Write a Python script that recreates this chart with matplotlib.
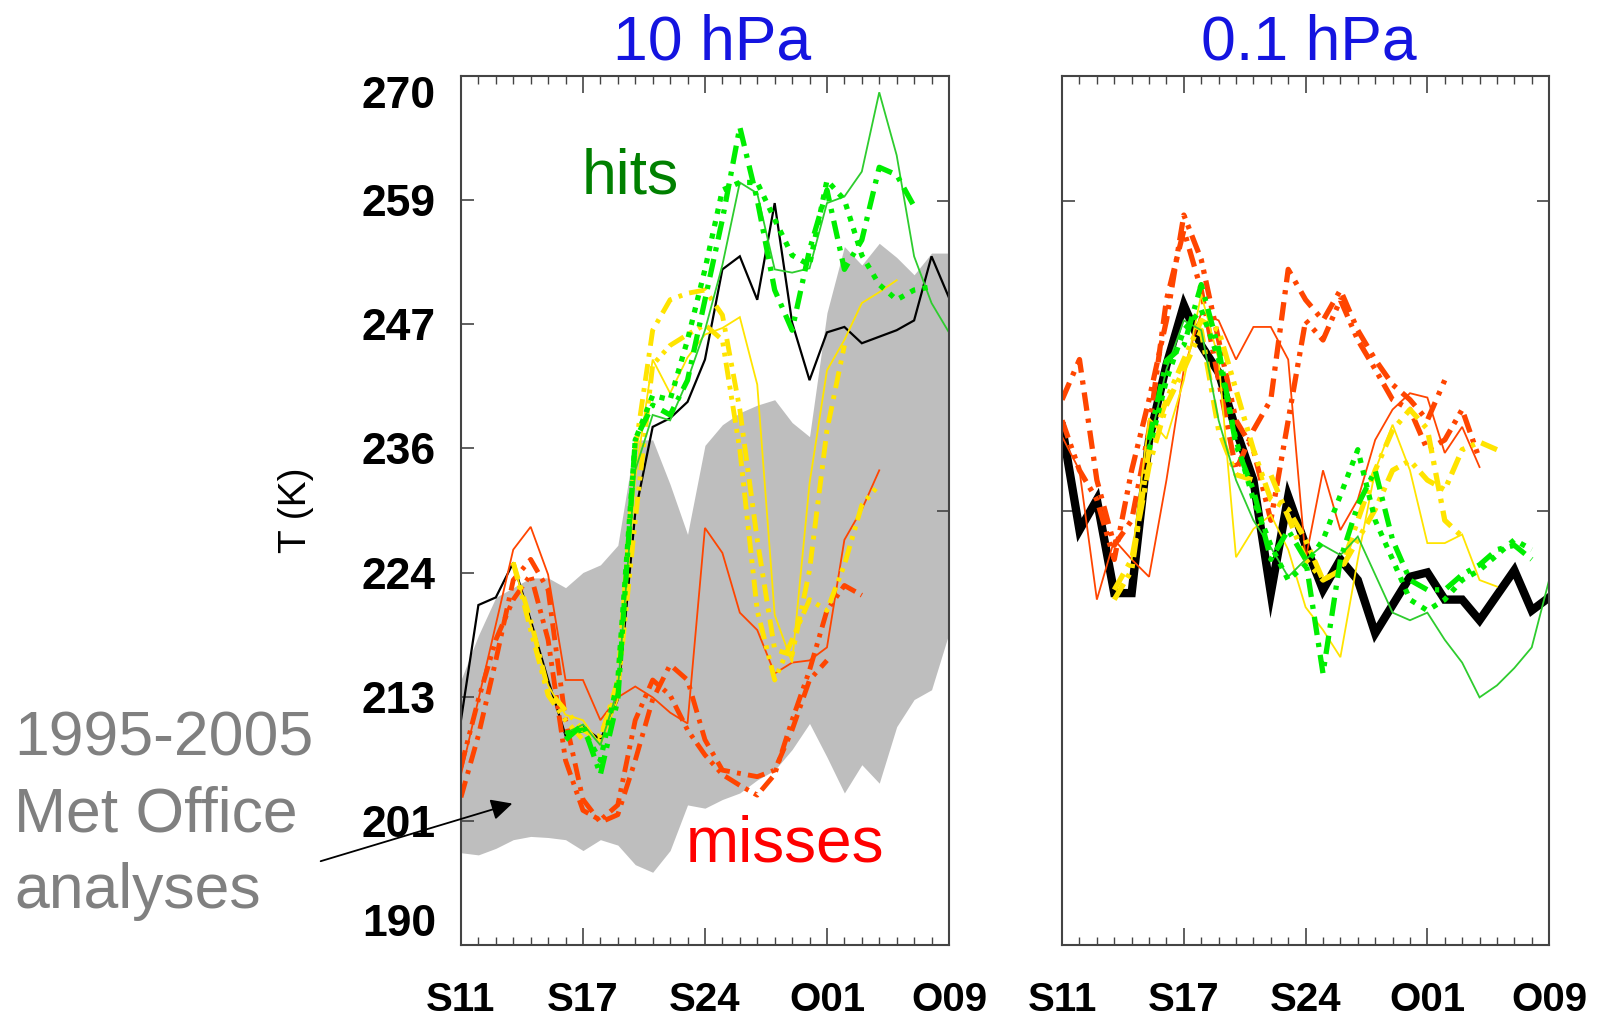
import numpy as np
import matplotlib
matplotlib.use('Agg')
import matplotlib.pyplot as plt

plt.rcParams['font.family'] = 'Liberation Sans'

nan = np.nan
days = np.arange(29)
date_labels = ['S11', 'S17', 'S24', 'O01', 'O09']
t_ticks = np.linspace(190, 270, 8)
t_labels = ['190', '201', '213', '224', '236', '247', '259', '270']
side_ticks = [230.0, 258.5]

# ---- 10 hPa panel ----
band_lo_10 = [198.5, 198.3, 198.9, 199.7, 200.0, 199.9, 199.7, 198.7, 199.7, 199.2, 197.4, 196.7, 198.7, 202.9,
              202.6, 203.4, 204.0, 205.2, 206.1, 208.0, 210.4, 207.3, 204.0, 206.6, 204.9, 210.1, 212.6, 213.5, 218.7]
band_hi_10 = [214.4, 218.5, 222.0, 222.9, 223.8, 223.8, 222.9, 224.3, 225.0, 226.8, 236.5, 236.5, 232.4, 227.8,
              236.0, 237.9, 239.0, 239.7, 240.2, 238.1, 236.8, 248.2, 254.3, 252.6, 254.6, 253.3, 251.7, 253.7, 253.7]
black_10 = [210.7, 221.3, 222.0, 225.2, 219.9, 214.4, 209.3, 210.1, 208.9, 212.6, 229.8, 237.7, 238.5, 240.0,
            243.9, 252.2, 253.4, 249.4, 258.3, 247.3, 242.0, 246.4, 246.9, 245.4, 246.0, 246.6, 247.5, 253.4, 249.6]
green_solid_10 = [nan] * 6 + [209.5, 210.3, 208.4, 213.5, 233.7, 238.8, 238.3, 242.0, 246.6, 252.6, 260.2, 259.2,
                              252.2, 251.9, 252.3, 258.3, 258.9, 261.2, 268.5, 262.7, 253.4, 249.1, 246.4]
green_dashdot_10 = [nan] * 6 + [208.9, 210.3, 205.7, 212.6, 236.5, 239.7, 238.8, 242.0, 249.4, 256.8, 265.3, 258.6,
                                250.3, 246.6, 254.0, 259.5, 252.2, 254.9, 261.6, 260.9, 258.0, nan, nan]
green_dotted_10 = [nan] * 6 + [209.5, 209.8, 207.0, 214.4, 236.5, 240.6, 240.2, 245.7, 252.2, 259.5, 260.2, 260.2,
                               256.8, 253.5, 252.6, 260.4, 258.6, 253.5, 250.8, 249.4, 250.3, 250.6, nan]
yellow_solid_10 = [nan] * 3 + [225.2, 219.5, 213.9, 211.2, 210.7, 208.4, 212.6, 233.0, 243.9, 240.8, 244.1, 246.2,
                               246.8, 247.8, 241.6, 220.4, 216.0, 232.5, 242.9, 245.7, 249.1, 250.1, 251.2] + [nan] * 3
yellow_dashdot_10 = [nan] * 3 + [225.2, 219.9, 213.5, 211.6, 209.8, 208.9, 214.4, 235.6, 246.6, 249.4, 250.0, 250.3,
                                 248.0, 239.3, 227.3, 217.2, 216.7, 224.5, 237.4, 245.2] + [nan] * 6
yellow_dd_10 = [nan] * 3 + [225.2, 219.0, 213.0, 210.7, 208.9, 209.3, 213.5, 229.1, 243.4, 245.2, 246.2, 247.1,
                            245.7, 235.6, 220.8, 214.4, 218.1, 221.8, 220.8, 225.0, 230.5, 232.4] + [nan] * 4
red_solid_10 = [205.7, 212.6, 219.5, 226.4, 228.5, 224.1, 214.4, 214.4, 210.7, 212.8, 213.8, 212.8, 211.4, 210.4,
                228.4, 226.1, 220.6, 219.0, 215.0, 216.0, 216.2, 217.4, 227.3, 230.1, 233.7] + [nan] * 4
red_dashdot_10 = [203.6, 209.3, 216.2, 223.6, 225.5, 222.7, 210.7, 203.4, 201.3, 202.0, 207.0, 212.6, 215.8, 214.4,
                  208.9, 206.1, 205.8, 205.5, 206.1, 209.8, 214.4, 216.2] + [nan] * 7
red_dd_10 = [206.4, 212.6, 218.1, 221.8, 224.1, 218.1, 207.0, 202.4, 201.5, 202.9, 210.7, 214.4, 213.0, 209.8,
             207.5, 205.7, 204.7, 203.8, 205.7, 210.7, 215.3, 220.8, 223.1, 222.2] + [nan] * 5

# ---- 0.1 hPa panel ----
black_01 = [237.7, 228.2, 231.0, 222.4, 222.4, 236.5, 243.4, 248.9, 245.2, 242.7, 237.4, 232.8, 222.4, 231.3,
            226.8, 222.7, 225.5, 223.6, 218.7, 221.3, 223.9, 224.3, 221.8, 221.8, 219.9, 222.2, 224.5, 220.8, 222.0]
green_solid_01 = [nan] * 5 + [236.0, 243.0, 247.5, 246.6, 238.3, 232.8, 229.1, 226.6, 223.9, 225.5, 226.8, 225.9,
                              227.6, 224.1, 220.6, 219.9, 220.6, 218.1, 216.0, 212.8, 213.9, 215.5, 217.4, 223.6]
green_dashdot_01 = [nan] * 5 + [236.5, 243.8, 245.2, 250.8, 244.9, 236.0, 231.9, 225.5, 228.2, 225.5, 215.0, 225.5,
                                230.5, 233.7, 227.3, 223.6, 222.7, 222.7, 224.1, 225.0, 226.4, 226.8, 225.5, nan]
green_dotted_01 = [nan] * 5 + [235.6, 242.0, 246.6, 248.5, 243.9, 236.5, 231.0, 226.8, 223.6, 225.0, 227.3, 231.4,
                               235.6, 229.1, 225.5, 221.8, 220.8, 221.8, 223.6, 224.5, 225.9, 227.3, 226.4, nan]
yellow_solid_01 = [nan] * 4 + [225.5, 238.5, 236.6, 242.0, 249.9, 243.9, 225.7, 228.3, 229.6, 226.4, 221.1, 219.0,
                               216.5, 225.5, 233.7, 237.9, 233.7, 227.0, 227.0, 227.8, 223.6, 223.0] + [nan] * 3
yellow_dashdot_01 = [nan] * 3 + [222.7, 225.5, 234.1, 239.7, 243.0, 246.6, 237.4, 233.3, 232.8, 233.3, 229.4, 225.5,
                                 223.6, 224.5, 229.1, 233.7, 237.4, 239.3, 237.5, 229.1, 227.6] + [nan] * 5
yellow_dd_01 = [nan] * 3 + [221.8, 224.5, 235.6, 240.2, 243.9, 247.5, 246.6, 241.1, 235.6, 231.0, 230.1, 227.3,
                            223.6, 224.5, 227.3, 230.1, 233.7, 234.6, 232.8, 231.9, 235.6, 236.3, 235.6] + [nan] * 3
red_solid_01 = [236.8, 233.7, 221.8, 227.3, 225.5, 223.9, 232.8, 243.0, 248.2, 247.5, 243.9, 246.9, 246.9, 243.9,
                225.5, 233.7, 228.2, 231.0, 236.5, 239.3, 240.8, 240.4, 235.3, 237.7, 234.0] + [nan] * 4
red_dashdot_01 = [240.2, 243.9, 232.8, 226.8, 229.1, 237.4, 249.4, 255.8, 250.3, 242.0, 233.7, 237.4, 240.2, 252.2,
                  249.4, 247.5, 250.3, 246.6, 243.9, 241.6, 240.2, 238.3, 242.0] + [nan] * 6
red_dd_01 = [238.3, 233.7, 231.0, 225.5, 233.7, 240.2, 247.5, 257.2, 253.1, 245.7, 238.3, 235.6, 229.1, 238.3,
             247.5, 245.7, 249.4, 245.7, 243.0, 240.2, 239.3, 235.6, 236.5, 239.3, 234.7] + [nan] * 4

GREEN_T = '#2ecc2e'
GREEN = '#00ee00'
YELLOW = '#ffe400'
RED = '#ff4500'
DASHDOT = (0, (3.5, 1.5, 0.8, 1.5))
DASHDOTDOT = (0, (3.5, 1.3, 0.8, 1.3, 0.8, 1.3))
DOTTED = (0, (1.0, 1.4))

fig = plt.figure(figsize=(16, 10.23), dpi=100)
ax1 = fig.add_axes([0.2881, 0.0762, 0.305, 0.8495])
ax2 = fig.add_axes([0.6638, 0.0762, 0.3044, 0.8495])


def draw(ax, y, color, lw, ls='-'):
    ax.plot(days, y, color=color, lw=lw, ls=ls, dash_capstyle='butt', solid_joinstyle='miter')


# left panel
ax1.fill_between(days, band_lo_10, band_hi_10, color='#bebebe', lw=0)
draw(ax1, black_10, 'black', 1.6)
draw(ax1, red_solid_10, RED, 1.3)
draw(ax1, red_dashdot_10, RED, 3.5, DASHDOT)
draw(ax1, red_dd_10, RED, 3.5, DASHDOTDOT)
draw(ax1, yellow_solid_10, YELLOW, 1.3)
draw(ax1, yellow_dashdot_10, YELLOW, 3.5, DASHDOT)
draw(ax1, yellow_dd_10, YELLOW, 3.5, DASHDOTDOT)
draw(ax1, green_solid_10, GREEN_T, 1.3)
draw(ax1, green_dashdot_10, GREEN, 3.8, DASHDOT)
draw(ax1, green_dotted_10, GREEN, 3.8, DOTTED)

# right panel
draw(ax2, black_01, 'black', 6)
draw(ax2, red_solid_01, RED, 1.3)
draw(ax2, red_dashdot_01, RED, 3.8, DASHDOT)
draw(ax2, red_dd_01, RED, 3.8, DASHDOTDOT)
draw(ax2, yellow_solid_01, YELLOW, 1.3)
draw(ax2, yellow_dashdot_01, YELLOW, 3.8, DASHDOT)
draw(ax2, yellow_dd_01, YELLOW, 3.8, DASHDOTDOT)
draw(ax2, green_solid_01, GREEN_T, 1.3)
draw(ax2, green_dashdot_01, GREEN, 3.8, DASHDOT)
draw(ax2, green_dotted_01, GREEN, 3.8, DOTTED)

for ax in (ax1, ax2):
    ax.set_xlim(0, 28)
    ax.set_ylim(190, 270)
    ax.set_xticks(np.arange(0, 29, 7))
    ax.set_xticks(days, minor=True)
    ax.set_xticklabels(date_labels, fontsize=29, fontweight='bold')
    ax.tick_params(axis='x', which='both', direction='in', top=True, bottom=True, pad=26, color='#444444')
    ax.tick_params(axis='x', which='major', length=12, width=1.2)
    ax.tick_params(axis='x', which='minor', length=6, width=1.0)
    for s in ax.spines.values():
        s.set_color('#444444')
        s.set_linewidth(1.5)

ax1.set_yticks(t_ticks)
ax1.set_yticklabels(t_labels, fontsize=32, fontweight='bold')
ax1.tick_params(axis='y', direction='in', left=True, right=False, length=9, width=1.2, pad=18, color='#444444')
labs = ax1.get_yticklabels()
labs[0].set_verticalalignment('bottom')
labs[-1].set_verticalalignment('top')

tw = ax1.twinx()
tw.set_ylim(190, 270)
tw.set_yticks(side_ticks)
tw.tick_params(axis='y', direction='in', length=9, width=1.2, labelright=False, color='#444444')
for s in tw.spines.values():
    s.set_visible(False)

ax2.set_yticks(side_ticks)
ax2.tick_params(axis='y', direction='in', left=True, right=True, labelleft=False, length=9, width=1.2,
                color='#444444')

# texts
fig.text(712 / 1600, 1 - 59 / 1023, '10 hPa', ha='center', va='baseline', fontsize=45, color='#1414e0')
fig.text(1309 / 1600, 1 - 59 / 1023, '0.1 hPa', ha='center', va='baseline', fontsize=45, color='#1414e0')
fig.text(296 / 1600, 1 - 510 / 1023, 'T (K)', rotation=90, ha='center', va='center', fontsize=28)
fig.text(630 / 1600, 1 - 194 / 1023, 'hits', ha='center', va='baseline', fontsize=45, color='#008000')
fig.text(785 / 1600, 1 - 862 / 1023, 'misses', ha='center', va='baseline', fontsize=46, color='#ff0000')
for txt, yb in zip(['1995-2005', 'Met Office', 'analyses'], [755, 832, 908]):
    fig.text(14 / 1600, 1 - yb / 1023, txt, ha='left', va='baseline', fontsize=45, color='#808080')

ax1.annotate('', xy=(3.1, 203.1), xycoords='data', xytext=(318, 1023 - 862), textcoords='figure pixels',
             arrowprops=dict(arrowstyle='-|>', color='black', lw=1.3, mutation_scale=32))

plt.savefig('out.png', dpi=100)
